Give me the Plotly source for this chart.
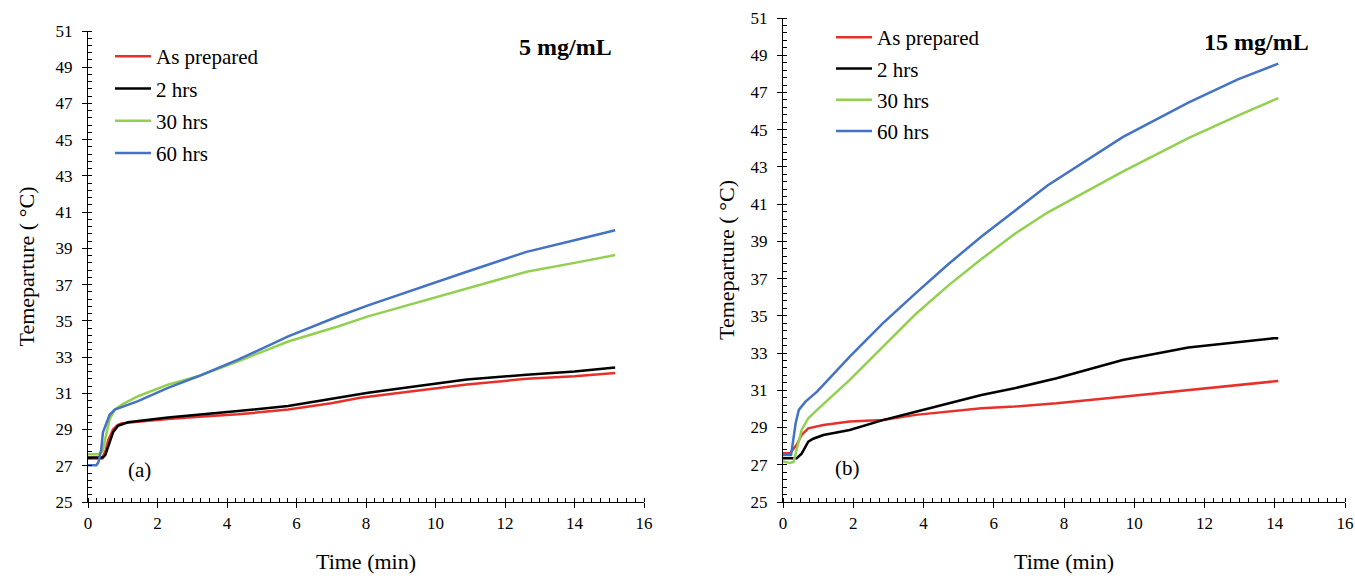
import plotly.graph_objects as go

# ---------------- data ----------------
# Panel (a) 5 mg/mL
a_prep_t = [0, 0.4, 0.5, 0.58, 0.72, 0.85, 0.96, 1.5, 2.3, 3.2, 4.32, 5.76, 7.0, 7.83, 9.3, 10.9, 12.62, 14.0, 15.17]
a_prep_T = [27.4, 27.4, 27.8, 28.4, 29.0, 29.25, 29.34, 29.45, 29.58, 29.7, 29.84, 30.1, 30.45, 30.75, 31.1, 31.48, 31.8, 31.94, 32.12]

a_2h_t = [0, 0.43, 0.5, 0.58, 0.72, 0.86, 1.15, 2.3, 3.2, 4.32, 5.76, 7.0, 8.06, 9.5, 10.9, 12.62, 14.0, 15.17]
a_2h_T = [27.45, 27.45, 27.6, 28.1, 28.85, 29.2, 29.4, 29.67, 29.82, 30.02, 30.3, 30.7, 31.03, 31.4, 31.76, 32.03, 32.2, 32.43]

a_30h_t = [0, 0.3, 0.42, 0.53, 0.62, 0.77, 1.0, 1.44, 2.3, 3.17, 4.32, 5.76, 7.19, 8.06, 10.9, 12.62, 14.0, 15.17]
a_30h_T = [27.64, 27.64, 27.8, 28.85, 29.56, 30.1, 30.4, 30.84, 31.48, 31.94, 32.77, 33.86, 34.69, 35.25, 36.8, 37.71, 38.2, 38.63]

a_60h_t = [0, 0.24, 0.3, 0.38, 0.43, 0.53, 0.62, 0.77, 1.44, 2.3, 3.17, 4.32, 5.76, 7.19, 8.06, 10.9, 12.62, 14.0, 15.17]
a_60h_T = [27.03, 27.03, 27.2, 27.9, 28.85, 29.4, 29.8, 30.1, 30.57, 31.3, 31.94, 32.86, 34.14, 35.24, 35.85, 37.71, 38.81, 39.45, 40.0]

# Panel (b) 15 mg/mL
b_prep_t = [0, 0.2, 0.39, 0.53, 0.72, 1.15, 1.9, 2.84, 3.78, 4.72, 5.65, 6.59, 7.79, 9.67, 11.54, 13.98, 14.1]
b_prep_T = [27.62, 27.62, 28.07, 28.6, 28.96, 29.14, 29.32, 29.4, 29.68, 29.86, 30.04, 30.13, 30.3, 30.66, 31.02, 31.47, 31.5]

b_2h_t = [0, 0.39, 0.53, 0.72, 0.86, 1.15, 1.9, 2.84, 3.78, 4.72, 5.65, 6.59, 7.79, 9.67, 11.54, 13.98, 14.1]
b_2h_T = [27.35, 27.35, 27.6, 28.24, 28.4, 28.6, 28.87, 29.4, 29.85, 30.3, 30.75, 31.11, 31.65, 32.63, 33.3, 33.8, 33.8]

b_30h_t = [0, 0.2, 0.3, 0.39, 0.53, 0.72, 0.97, 1.9, 2.84, 3.78, 4.72, 5.65, 6.59, 7.53, 9.67, 11.54, 12.95, 14.1]
b_30h_T = [27.17, 27.1, 27.15, 27.8, 28.87, 29.5, 29.95, 31.56, 33.35, 35.1, 36.65, 38.05, 39.4, 40.55, 42.75, 44.55, 45.75, 46.7]

b_60h_t = [0, 0.23, 0.36, 0.45, 0.64, 0.97, 1.9, 2.84, 3.78, 4.72, 5.65, 6.59, 7.53, 9.67, 11.54, 12.95, 14.1]
b_60h_T = [27.53, 27.53, 29.23, 29.95, 30.39, 30.93, 32.81, 34.6, 36.22, 37.8, 39.26, 40.65, 42.0, 44.6, 46.45, 47.7, 48.55]

series_names = ["As prepared", "2 hrs", "30 hrs", "60 hrs"]
series_colors = ["#E8302A", "#000000", "#92D050", "#4472C4"]

x_ticks = [0, 2, 4, 6, 8, 10, 12, 14, 16]
y_ticks = [25, 27, 29, 31, 33, 35, 37, 39, 41, 43, 45, 47, 49, 51]

panel_titles = ["5 mg/mL", "15 mg/mL"]
panel_labels = ["(a)", "(b)"]

# ---------------- figure ----------------
W, H = 1355, 576
FONT = "Liberation Serif"

fig = go.Figure()

panels = [
    [(a_prep_t, a_prep_T), (a_2h_t, a_2h_T), (a_30h_t, a_30h_T), (a_60h_t, a_60h_T)],
    [(b_prep_t, b_prep_T), (b_2h_t, b_2h_T), (b_30h_t, b_30h_T), (b_60h_t, b_60h_T)],
]
for p, data in enumerate(panels):
    for i, (t, T) in enumerate(data):
        fig.add_trace(go.Scatter(
            x=t, y=T, mode="lines", name=series_names[i],
            line=dict(color=series_colors[i], width=2.5),
            xaxis="x" if p == 0 else "x2",
            yaxis="y" if p == 0 else "y2",
            legend="legend" if p == 0 else "legend2",
            legendgroup=f"p{p}s{i}",
        ))

def px_x(v):
    return v / W

def px_y(v):
    return 1 - v / H

def axis_common():
    return dict(
        showline=True, linecolor="black", linewidth=1.3, mirror=False,
        showgrid=False, zeroline=False, automargin=False,
        ticks="outside", ticklen=5, tickwidth=1.3, tickcolor="black",
        tickfont=dict(family=FONT, size=17, color="black"),
    )

def xaxis_common():
    d = axis_common()
    d.update(range=[0, 16], tickvals=x_ticks,
             minor=dict(ticks="inside", ticklen=4, tickwidth=1, tickcolor="black", dtick=0.25, tick0=0),
             title=dict(text="Time (min)", font=dict(family=FONT, size=22, color="black"), standoff=22))
    return d

def yaxis_common(standoff):
    d = axis_common()
    d.update(range=[25, 51], tickvals=y_ticks,
             minor=dict(ticks="inside", ticklen=4, tickwidth=1, tickcolor="black", dtick=0.4, tick0=25),
             ticklabelstandoff=6,
             title=dict(text="Temeparture ( °C)", font=dict(family=FONT, size=22, color="black"), standoff=standoff))
    return d

fig.update_layout(
    width=W, height=H,
    margin=dict(l=0, r=0, t=0, b=0, autoexpand=False),
    paper_bgcolor="white", plot_bgcolor="white",
    font=dict(family=FONT, color="black"),
    xaxis=dict(xaxis_common(), domain=[px_x(88), px_x(644)], anchor="y"),
    yaxis=dict(yaxis_common(14), domain=[px_y(502), px_y(31)], anchor="x"),
    xaxis2=dict(xaxis_common(), domain=[px_x(783), px_x(1345)], anchor="y2"),
    yaxis2=dict(yaxis_common(9), domain=[px_y(502), px_y(18)], anchor="x2"),
    legend=dict(x=px_x(110), y=px_y(36), xanchor="left", yanchor="top",
                bgcolor="rgba(0,0,0,0)", font=dict(family=FONT, size=21, color="black"),
                tracegroupgap=2, itemwidth=36),
    legend2=dict(x=px_x(831), y=px_y(17), xanchor="left", yanchor="top",
                 bgcolor="rgba(0,0,0,0)", font=dict(family=FONT, size=21, color="black"),
                 tracegroupgap=1, itemwidth=36),
    showlegend=True,
)

ann_common = dict(xref="paper", yref="paper", showarrow=False, xanchor="center", yanchor="middle")
fig.add_annotation(text=f"<b>{panel_titles[0]}</b>", x=px_x(565), y=px_y(47),
                   font=dict(family=FONT, size=24, color="black"), **ann_common)
fig.add_annotation(text=f"<b>{panel_titles[1]}</b>", x=px_x(1256), y=px_y(42),
                   font=dict(family=FONT, size=24, color="black"), **ann_common)
fig.add_annotation(text=panel_labels[0], x=px_x(139), y=px_y(470),
                   font=dict(family=FONT, size=21, color="black"), **ann_common)
fig.add_annotation(text=panel_labels[1], x=px_x(847), y=px_y(468),
                   font=dict(family=FONT, size=21, color="black"), **ann_common)

fig.write_html("out.html")
